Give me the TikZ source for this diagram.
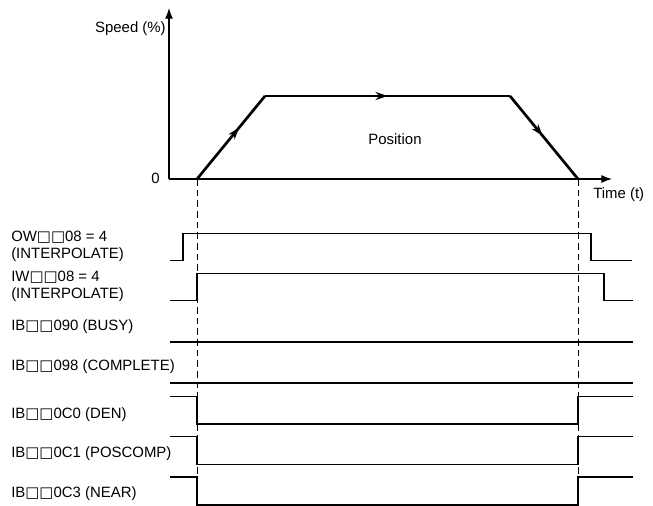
\documentclass[tikz,border=0pt]{standalone}
\usepackage{fontspec}
\setmainfont{Liberation Sans}
\newfontfamily\symfont{DejaVu Sans Bold}
\usetikzlibrary{arrows.meta,decorations.markings}
\newcommand{\sqb}{{\symfont\char"25A1}}
\begin{document}
\begin{tikzpicture}[x=0.75pt,y=-0.75pt,
  lbl/.style={anchor=west,inner sep=0pt,font=\fontsize{11.2}{13}\selectfont},
  txt/.style={inner sep=0pt,font=\fontsize{11.2}{13}\selectfont},
  axis/.style={line width=0.9pt,-{Latex[length=8pt,width=6pt]}},
  sig/.style={line width=1.1pt},
  guide/.style={line width=0.7pt,dash pattern=on 5pt off 3pt},
  prof/.style={line width=2pt},
  midarrow/.style={postaction={decorate},decoration={markings,mark=at position #1 with {\arrow{Stealth[length=9pt,width=6pt]}}}}]
\useasboundingbox (0,0) rectangle (653,506);
% axes
\coordinate (O) at (169,179);
\coordinate (ytop) at (169,8);
\coordinate (xend) at (612,179);
\draw[axis] (O) -- (ytop);
\draw[axis] (O) -- (xend);
\node[txt,anchor=east] (speed) at (166,29) {Speed (\%)};
\node[txt,anchor=east] (zero) at (160,178) {0};
\node[txt,anchor=west] (time) at (593,195) {Time (t)};
\node[txt] (pos) at (395,139) {Position};
% profile
\coordinate (p0) at (197,179);
\coordinate (p1) at (265,96);
\coordinate (p2) at (510,96);
\coordinate (p3) at (578,179);
\draw[prof,midarrow=0.62] (p0) -- (p1);
\draw[prof,midarrow=0.5] (p1) -- (p2);
\draw[prof,midarrow=0.48] (p2) -- (p3);
% guides
\coordinate (g0) at (197,506);
\coordinate (g1) at (578,506);
\draw[guide] (p0) -- (g0);
\draw[guide] (p3) -- (g1);
% labels
\node[lbl] (l1a) at (11,237) {OW\sqb\sqb08 = 4};
\node[lbl] (l1b) at (11,255) {(INTERPOLATE)};
\node[lbl] (l2a) at (11,277) {IW\sqb\sqb08 = 4};
\node[lbl] (l2b) at (11,295) {(INTERPOLATE)};
\node[lbl] (l3) at (11,327) {IB\sqb\sqb090 (BUSY)};
\node[lbl] (l4) at (11,367) {IB\sqb\sqb098 (COMPLETE)};
\node[lbl] (l5) at (11,415) {IB\sqb\sqb0C0 (DEN)};
\node[lbl] (l6) at (11,454) {IB\sqb\sqb0C1 (POSCOMP)};
\node[lbl] (l7) at (11,494) {IB\sqb\sqb0C3 (NEAR)};
% signals
\draw[sig] (170,260.5) -- (183,260.5) -- (183,233.5) -- (591,233.5) -- (591,260.5) -- (632,260.5);
\draw[sig] (170,300.5) -- (197,300.5) -- (197,273.5) -- (604,273.5) -- (604,300.5) -- (633,300.5);
\draw[sig] (170,342) -- (633,342);
\draw[sig] (170,383) -- (633,383);
\draw[sig] (170,396.5) -- (197,396.5) -- (197,424) -- (578,424) -- (578,396.5) -- (633,396.5);
\draw[sig] (170,436.5) -- (197,436.5) -- (197,464.5) -- (578,464.5) -- (578,436.5) -- (633,436.5);
\draw[sig] (170,477) -- (197,477) -- (197,505) -- (578,505) -- (578,477) -- (633,477);
\end{tikzpicture}
\end{document}
